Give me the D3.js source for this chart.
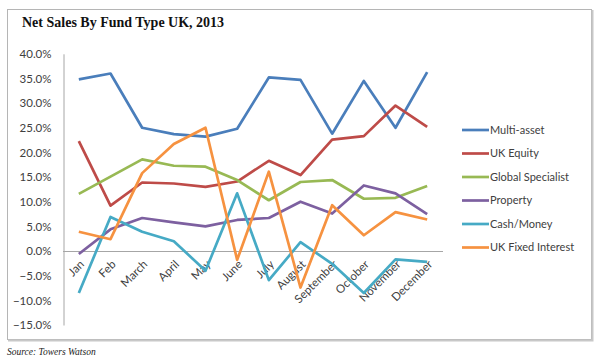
<!DOCTYPE html>
<html>
<head>
<meta charset="utf-8">
<script src="https://cdn.jsdelivr.net/npm/d3@7"></script>
<style>
  body { margin: 0; background: #fff; }
  svg { display: block; }
</style>
</head>
<body>
<svg id="chart" width="600" height="363"></svg>
<script>
// data
var months = ['Jan', 'Feb', 'March', 'April', 'May', 'June', 'July', 'August', 'September', 'October', 'November', 'December'];
var seriesNames = ['Multi-asset', 'UK Equity', 'Global Specialist', 'Property', 'Cash/Money', 'UK Fixed Interest'];
var multiAsset = [34.8, 36.0, 25.0, 23.7, 23.2, 24.8, 35.2, 34.7, 23.8, 34.5, 25.0, 36.3];
var ukEquity = [22.3, 9.2, 13.9, 13.7, 13.0, 14.1, 18.3, 15.4, 22.6, 23.3, 29.5, 25.2];
var globalSpecialist = [11.6, 15.1, 18.6, 17.3, 17.1, 14.4, 10.3, 14.0, 14.4, 10.6, 10.8, 13.2];
var property = [-0.6, 4.4, 6.7, 5.8, 5.0, 6.3, 6.7, 10.0, 7.6, 13.3, 11.7, 7.5];
var cashMoney = [-8.5, 6.9, 3.9, 2.0, -4.0, 11.7, -5.9, 1.8, -2.6, -8.5, -1.7, -2.2];
var ukFixedInterest = [3.9, 2.4, 15.8, 21.7, 25.0, -1.8, 16.1, -7.4, 9.3, 3.2, 7.9, 6.4];
var yTicks = [40, 35, 30, 25, 20, 15, 10, 5, 0, -5, -10, -15];
var colors = ['#4a7ebb', '#be4b48', '#98b954', '#7d60a0', '#46aac5', '#f69240'];

var series = [multiAsset, ukEquity, globalSpecialist, property, cashMoney, ukFixedInterest].map(function (vals, i) {
  return { name: seriesNames[i], color: colors[i], values: vals };
});

var svg = d3.select('#chart');
var labelFont = 'Lato, "Open Sans", sans-serif';

// outer frame with a little shadow on the right and bottom
svg.append('rect')
  .attr('x', 7.5).attr('y', 9.5).attr('width', 584).attr('height', 330)
  .attr('fill', '#fff').attr('stroke', '#b5b5b5');
svg.append('path')
  .attr('d', 'M592.5,10V340.5H8')
  .attr('fill', 'none').attr('stroke', '#c8c8c8').attr('stroke-width', 2);

svg.append('text')
  .attr('x', 22).attr('y', 27)
  .style('font-family', '"Liberation Serif", "Times New Roman", serif')
  .style('font-weight', 'bold').style('font-size', '14px')
  .attr('fill', '#111')
  .text('Net Sales By Fund Type UK, 2013');

svg.append('text')
  .attr('x', 7).attr('y', 355)
  .style('font-family', '"Liberation Serif", "Times New Roman", serif')
  .style('font-style', 'italic').style('font-size', '9.5px')
  .attr('fill', '#222')
  .text('Source: Towers Watson');

var x = d3.scaleBand().domain(months).range([63, 443]);
var y = d3.scaleLinear().domain([-15, 40]).range([325, 53.8]);

// y axis
var yAxis = svg.append('g')
  .attr('transform', 'translate(63.5,0)')
  .call(d3.axisLeft(y).tickValues(yTicks).tickSize(0).tickPadding(12)
    .tickFormat(function (d) { return d3.format('.1f')(d) + '%'; }));
yAxis.select('.domain').attr('stroke', '#a6a6a6');
yAxis.selectAll('text')
  .style('font-family', labelFont).style('font-size', '11.5px').attr('fill', '#404040');

// zero line
svg.append('line')
  .attr('x1', 63).attr('x2', 443)
  .attr('y1', Math.round(y(0)) + 0.5).attr('y2', Math.round(y(0)) + 0.5)
  .attr('stroke', '#a6a6a6');

// month labels, rotated, hanging below the zero line
svg.append('g').selectAll('text')
  .data(months)
  .join('text')
  .attr('transform', function (d) {
    return 'translate(' + (x(d) + x.bandwidth() / 2 + 6) + ',' + (y(0) + 14) + ') rotate(-45)';
  })
  .attr('text-anchor', 'end')
  .style('font-family', labelFont).style('font-size', '11.5px').attr('fill', '#404040')
  .text(function (d) { return d; });

var line = d3.line()
  .x(function (d, i) { return x(months[i]) + x.bandwidth() / 2; })
  .y(function (d) { return y(d); });

// last series drawn on top, like the reference
svg.append('g').selectAll('path')
  .data(series)
  .join('path')
  .attr('d', function (d) { return line(d.values); })
  .attr('fill', 'none')
  .attr('stroke', function (d) { return d.color; })
  .attr('stroke-width', 2.7)
  .attr('stroke-linejoin', 'round');

// legend
var legend = svg.append('g').selectAll('g')
  .data(series)
  .join('g')
  .attr('transform', function (d, i) { return 'translate(462,' + (130 + i * 23.5) + ')'; });
legend.append('line')
  .attr('x1', 0).attr('x2', 27)
  .attr('stroke', function (d) { return d.color; })
  .attr('stroke-width', 2.7);
legend.append('text')
  .attr('x', 28).attr('dy', '0.35em')
  .style('font-family', labelFont).style('font-size', '11px').attr('fill', '#404040')
  .text(function (d) { return d.name; });
</script>
</body>
</html>
